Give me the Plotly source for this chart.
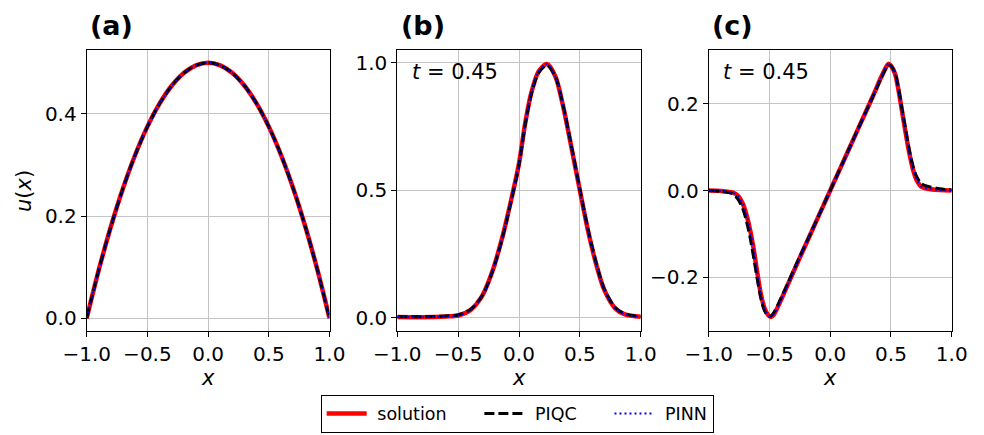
import plotly.graph_objects as go

# ---------------- data ----------------
# panel (a)
xa = [-1.0, -0.9, -0.8, -0.7, -0.6, -0.5, -0.4, -0.3, -0.2, -0.1, 0.0,
      0.1, 0.2, 0.3, 0.4, 0.5, 0.6, 0.7, 0.8, 0.9, 1.0]
ua_solution = [0.0, 0.095, 0.18, 0.255, 0.32, 0.375, 0.42, 0.455, 0.48, 0.495, 0.5,
               0.495, 0.48, 0.455, 0.42, 0.375, 0.32, 0.255, 0.18, 0.095, 0.0]
ua_piqc = [0.0, 0.095, 0.18, 0.255, 0.32, 0.375, 0.42, 0.455, 0.48, 0.495, 0.5,
           0.495, 0.48, 0.455, 0.42, 0.375, 0.32, 0.255, 0.18, 0.095, 0.0]
ua_pinn = [0.0, 0.095, 0.18, 0.255, 0.32, 0.375, 0.42, 0.455, 0.48, 0.495, 0.5,
           0.495, 0.48, 0.455, 0.42, 0.375, 0.32, 0.255, 0.18, 0.095, 0.0]

# panel (b)
xb = [-1.0, -0.8, -0.6, -0.5, -0.4, -0.3, -0.22, -0.14, -0.07, 0.0, 0.05, 0.1,
      0.16, 0.23, 0.3, 0.36, 0.43, 0.5, 0.57, 0.64, 0.7, 0.79, 0.87, 1.0]
ub_solution = [0.003, 0.002, 0.005, 0.009, 0.03, 0.088, 0.18, 0.31, 0.45, 0.605, 0.76, 0.88,
               0.965, 0.995, 0.945, 0.835, 0.67, 0.5, 0.335, 0.2, 0.11, 0.037, 0.013, 0.004]
ub_piqc = [0.004, 0.004, 0.007, 0.011, 0.032, 0.088, 0.178, 0.306, 0.446, 0.6, 0.755, 0.875,
           0.96, 0.99, 0.945, 0.838, 0.675, 0.505, 0.34, 0.205, 0.113, 0.04, 0.015, 0.005]
ub_pinn = [0.003, 0.002, 0.005, 0.009, 0.03, 0.088, 0.18, 0.31, 0.45, 0.605, 0.76, 0.88,
           0.965, 0.995, 0.945, 0.835, 0.67, 0.5, 0.335, 0.2, 0.11, 0.037, 0.013, 0.004]

# panel (c)
xc = [-1.0, -0.9, -0.8, -0.76, -0.72, -0.69, -0.66, -0.63, -0.6, -0.57, -0.54, -0.51,
      -0.487, -0.46, -0.42, -0.35, -0.25, -0.15, -0.05, 0.0, 0.05, 0.15, 0.25, 0.35,
      0.42, 0.46, 0.478, 0.5, 0.533, 0.56, 0.59, 0.62, 0.65, 0.68, 0.71, 0.75, 0.8, 0.9, 1.0]
uc_solution = [0.0, -0.001, -0.005, -0.012, -0.03, -0.055, -0.09, -0.135, -0.19, -0.24, -0.272, -0.288,
               -0.292, -0.285, -0.262, -0.218, -0.155, -0.093, -0.031, 0.0, 0.031, 0.093, 0.155, 0.217,
               0.262, 0.285, 0.2925, 0.288, 0.27, 0.235, 0.185, 0.135, 0.088, 0.05, 0.025, 0.009, 0.004, 0.001, 0.0]
uc_piqc = [0.0, -0.002, -0.008, -0.02, -0.042, -0.07, -0.108, -0.155, -0.205, -0.25, -0.278, -0.29,
           -0.29, -0.28, -0.258, -0.215, -0.153, -0.092, -0.031, 0.0, 0.031, 0.093, 0.155, 0.216,
           0.26, 0.283, 0.29, 0.288, 0.272, 0.24, 0.19, 0.142, 0.095, 0.058, 0.033, 0.016, 0.01, 0.004, 0.001]
uc_pinn = [0.0, -0.001, -0.005, -0.012, -0.03, -0.055, -0.09, -0.135, -0.19, -0.24, -0.272, -0.288,
           -0.292, -0.285, -0.262, -0.218, -0.155, -0.093, -0.031, 0.0, 0.031, 0.093, 0.155, 0.217,
           0.262, 0.285, 0.2925, 0.288, 0.27, 0.235, 0.185, 0.135, 0.088, 0.05, 0.025, 0.009, 0.004, 0.001, 0.0]

x_ticks = [-1.0, -0.5, 0.0, 0.5, 1.0]
ya_ticks = [0.0, 0.2, 0.4]
yb_ticks = [0.0, 0.5, 1.0]
yc_ticks = [-0.2, 0.0, 0.2]
panel_labels = ["(a)", "(b)", "(c)"]
series_names = ["solution", "PIQC", "PINN"]
time_label = "<i>t</i> = 0.45"

# ---------------- figure ----------------
W, H = 984, 435
OFF = 8  # page body margin of the exported html
FONT = "DejaVu Sans"
NB = "\u00a0"


def X(px):
    return (px - OFF) / W


def Y(py):
    return 1 - (py - OFF) / H


fig = go.Figure()

panels = [
    (xa, [ua_solution, ua_piqc, ua_pinn], "x", "y"),
    (xb, [ub_solution, ub_piqc, ub_pinn], "x2", "y2"),
    (xc, [uc_solution, uc_piqc, uc_pinn], "x3", "y3"),
]
styles = [
    dict(color="#ff0000", width=4.5),
    dict(color="#000000", width=3, dash="10px,4px"),
    dict(color="#0000ff", width=2, dash="2px,3px"),
]
legend_labels = [NB + series_names[0] + NB * 5,
                 NB + series_names[1] + NB * 5,
                 NB + series_names[2]]
for i, (xs, ys, xr, yr) in enumerate(panels):
    for j, y in enumerate(ys):
        fig.add_trace(go.Scatter(
            x=xs, y=y, mode="lines", name=legend_labels[j],
            line=dict(shape="spline", smoothing=0.8, **styles[j]),
            xaxis=xr, yaxis=yr, showlegend=(i == 0),
        ))

xdoms = [[X(86.7), X(329.5)], [X(397.3), X(640.7)], [X(708.7), X(951.7)]]
ydom = [Y(331), Y(50)]
yranges = [[-0.025, 0.525], [-0.052, 1.05], [-0.3245, 0.3245]]
yticks = [ya_ticks, yb_ticks, yc_ticks]

axis_common = dict(
    showline=True, mirror=True, linecolor="black", linewidth=1,
    showgrid=True, gridcolor="#c4c4c4", gridwidth=1,
    ticks="outside", ticklen=5, tickcolor="black", tickwidth=1,
    tickfont=dict(family=FONT, size=20, color="black"),
    zeroline=False, automargin=False, tickformat=".1f",
)
for i in range(3):
    sfx = "" if i == 0 else str(i + 1)
    fig.update_layout(**{
        "xaxis" + sfx: dict(domain=xdoms[i], range=[-1.0, 1.0], tickvals=x_ticks,
                            anchor="y" + sfx, **axis_common),
        "yaxis" + sfx: dict(domain=ydom, range=yranges[i], tickvals=yticks[i],
                            anchor="x" + sfx, **axis_common),
    })

annotations = []
for i in range(3):
    annotations.append(dict(
        text="<b>" + panel_labels[i] + "</b>", xref="paper", yref="paper",
        x=xdoms[i][0] + 1.5 / W, y=Y(25), xanchor="left", yanchor="middle",
        showarrow=False, font=dict(family=FONT, size=27, color="black"),
    ))
    annotations.append(dict(
        text="<i>x</i>", xref="paper", yref="paper",
        x=(xdoms[i][0] + xdoms[i][1]) / 2, y=Y(378), xanchor="center", yanchor="middle",
        showarrow=False, font=dict(family=FONT, size=21, color="black"),
    ))
for xpix in (410, 721):
    annotations.append(dict(
        text=time_label, xref="paper", yref="paper",
        x=X(xpix), y=Y(72), xanchor="left", yanchor="middle",
        showarrow=False, font=dict(family=FONT, size=21, color="black"),
    ))
annotations.append(dict(
    text="<i>u</i>(<i>x</i>)", xref="paper", yref="paper",
    x=X(24), y=Y(191), xanchor="center", yanchor="middle", textangle=-90,
    showarrow=False, font=dict(family=FONT, size=21, color="black"),
))

fig.update_layout(
    width=W, height=H,
    margin=dict(l=0, r=0, t=0, b=0),
    paper_bgcolor="white", plot_bgcolor="white",
    font=dict(family=FONT, color="black"),
    annotations=annotations,
    legend=dict(
        orientation="h", x=X(320.7), xanchor="left", y=Y(432.7), yanchor="bottom",
        bordercolor="black", borderwidth=1, bgcolor="white",
        font=dict(family=FONT, size=17.5, color="black"),
        itemwidth=40,
    ),
)

fig.write_html("out.html")
